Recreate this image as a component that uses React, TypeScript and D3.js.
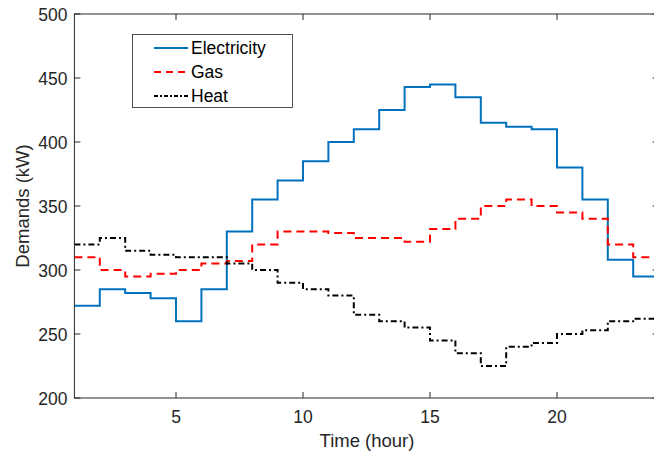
import React from "react";
import * as d3 from "d3";

const hours = d3.range(1, 25);
const electricity = [272, 285, 282, 278, 260, 285, 330, 355, 370, 385, 400, 410, 425, 443, 445, 435, 415, 412, 410, 380, 355, 308, 295, 295];
const gas = [310, 300, 295, 297, 300, 305, 307, 320, 330, 330, 329, 325, 325, 322, 332, 340, 350, 355, 350, 345, 340, 320, 310, 310];
const heat = [320, 325, 315, 312, 310, 310, 305, 300, 290, 285, 280, 265, 260, 255, 245, 235, 225, 240, 243, 250, 253, 260, 262, 262];
const xTicks = [5, 10, 15, 20];
const yTicks = [200, 250, 300, 350, 400, 450, 500];
const seriesNames = ["Electricity", "Gas", "Heat"];

const W = 654, H = 459;
const left = 74.4, right = 658.6, top = 14, bottom = 398;

export default function App() {
  const x = d3.scaleLinear().domain([1, 24]).range([left, right]);
  const y = d3.scaleLinear().domain([200, 500]).range([bottom, top]);
  const line = d3.line<number>().x((_, i) => x(hours[i])).y((d) => y(d)).curve(d3.curveStepAfter);
  const series = [
    { name: seriesNames[0], data: electricity, color: "#0072BD", dash: "none", legDash: "none" },
    { name: seriesNames[1], data: gas, color: "#FF0000", dash: "8,5", legDash: "7,5" },
    { name: seriesNames[2], data: heat, color: "#000000", dash: "6,3,2,3", legDash: "4,2,2,2" },
  ];
  const axisColor = "#262626";
  const font = "'Liberation Sans', Arial, Helvetica, sans-serif";
  return (
    <svg width={W} height={H} style={{ position: "absolute", left: 0, top: 0, display: "block", background: "#fff" }}>
      <defs>
        <clipPath id="plot">
          <rect x={left} y={top} width={right - left} height={bottom - top} />
        </clipPath>
      </defs>
      <rect x={0} y={0} width={W} height={H} fill="#fff" />
      <g clipPath="url(#plot)">
        {series.map((s) => (
          <path key={s.name} d={line(s.data) || ""} fill="none" stroke={s.color} strokeWidth={2} strokeDasharray={s.dash} />
        ))}
      </g>
      <rect x={left} y={top} width={right - left} height={bottom - top} fill="none" stroke={axisColor} strokeWidth={1} />
      {xTicks.map((t) => (
        <g key={"x" + t}>
          <line x1={x(t)} x2={x(t)} y1={bottom} y2={bottom - 6} stroke={axisColor} />
          <line x1={x(t)} x2={x(t)} y1={top} y2={top + 6} stroke={axisColor} />
          <text x={x(t)} y={bottom + 25} textAnchor="middle" fontSize={17.5} fontFamily={font} fill={axisColor}>{t}</text>
        </g>
      ))}
      {yTicks.map((t) => (
        <g key={"y" + t}>
          <line x1={left} x2={left + 6} y1={y(t)} y2={y(t)} stroke={axisColor} />
          <line x1={right} x2={right - 6} y1={y(t)} y2={y(t)} stroke={axisColor} />
          <text x={left - 7} y={y(t) + 6.5} textAnchor="end" fontSize={17.5} fontFamily={font} fill={axisColor}>{t}</text>
        </g>
      ))}
      <text x={367} y={446.5} textAnchor="middle" fontSize={18.5} fontFamily={font} fill={axisColor}>Time (hour)</text>
      <text transform={`translate(28.5, ${(top + bottom) / 2}) rotate(-90)`} textAnchor="middle" fontSize={18.5} fontFamily={font} fill={axisColor}>Demands (kW)</text>
      <rect x={132.5} y={34.5} width={160} height={73} fill="#fff" stroke={axisColor} strokeWidth={0.8} />
      {series.map((s, i) => (
        <g key={"l" + s.name}>
          <line x1={154} x2={188} y1={48 + i * 24} y2={48 + i * 24} stroke={s.color} strokeWidth={2} strokeDasharray={s.legDash} />
          <text x={191} y={54 + i * 24} fontSize={17.5} fontFamily={font} fill="#000">{s.name}</text>
        </g>
      ))}
    </svg>
  );
}
